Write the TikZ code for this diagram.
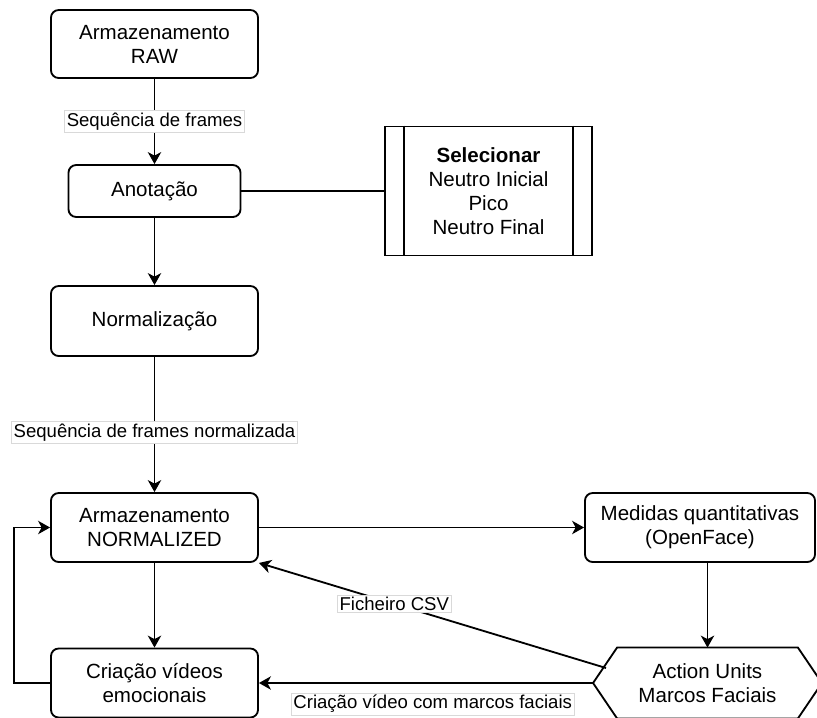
\documentclass[tikz,border=0pt]{standalone}
\usepackage{fontspec}
\setmainfont{Liberation Sans}
\usepackage{tikz}
\usetikzlibrary{arrows.meta}

\begin{document}
\begin{tikzpicture}[x=0.025cm, y=-0.025cm, line width=1.3pt, >={Stealth[length=8.5pt,width=9.5pt,inset=2.5pt]},
    every node/.style={font=\fontsize{14.6}{17}\selectfont, align=center},
    bnode/.style={draw, rounded corners=5.5pt, minimum width=5.175cm, minimum height=1.7cm, inner sep=2pt},
    snode/.style={draw, minimum width=5.175cm, minimum height=3.225cm},
    hnode/.style={minimum width=5.675cm, minimum height=1.725cm},
    lbl/.style={fill=white, draw=black!15, line width=0.5pt, inner sep=1.5pt, font=\fontsize{13.2}{15}\selectfont}]
    \useasboundingbox (0,0) rectangle (817,718);

    \node[bnode] (raw) at (154.5,44) {Armazenamento\\RAW};
    \node[bnode, minimum width=4.3cm, minimum height=1.3cm] (anot) at (154.5,191) {Anotação};
    \node[snode] (sel) at (488.5,191) {\textbf{Selecionar}\\Neutro Inicial\\Pico\\Neutro Final};
    \node[bnode, minimum height=1.75cm] (norm) at (154.5,321) {Normalização};
    \node[bnode, minimum height=1.725cm] (normd) at (154.5,527.5) {Armazenamento\\NORMALIZED};
    \node[bnode, minimum height=1.725cm] (crie) at (154.5,683) {Criação vídeos\\emocionais};
    \node[bnode, minimum width=5.75cm, minimum height=1.725cm] (med) at (700,527.5) {Medidas quantitativas\\(OpenFace)};
    \node[hnode] (au) at (707.5,683) {Action Units\\Marcos Faciais};
    \coordinate (csv) at (606,668);

    % process box sides and hexagon outline
    \draw ([xshift=0.5cm]sel.north west) -- ([xshift=0.5cm]sel.south west);
    \draw ([xshift=-0.5cm]sel.north east) -- ([xshift=-0.5cm]sel.south east);
    \draw (au.west) -- ([xshift=0.6cm]au.north west) -- ([xshift=-0.6cm]au.north east) -- (au.east)
        -- ([xshift=-0.6cm]au.south east) -- ([xshift=0.6cm]au.south west) -- cycle;

    \draw[->] (raw) -- node[lbl] {Sequência de frames} (anot);
    \draw (anot) -- (sel);
    \draw[->] (anot) -- (norm);
    \draw[->] (norm) -- node[lbl, pos=0.56] {Sequência de frames normalizada} (normd);
    \draw[->] (normd) -- (crie);
    \draw[->] (normd) -- (med);
    \draw[->] (med.south -| au) -- (au.north);
    \draw[->] (csv) -- node[lbl, pos=0.61] {Ficheiro CSV} (normd.south east);
    \draw[->] (au.west) -- node[lbl, pos=0.48, anchor=north, yshift=-7pt] {Criação vídeo com marcos faciais} (crie.east);
    \draw[->] (crie.west) -- ++(-36,0) |- (normd.west);
\end{tikzpicture}
\end{document}
